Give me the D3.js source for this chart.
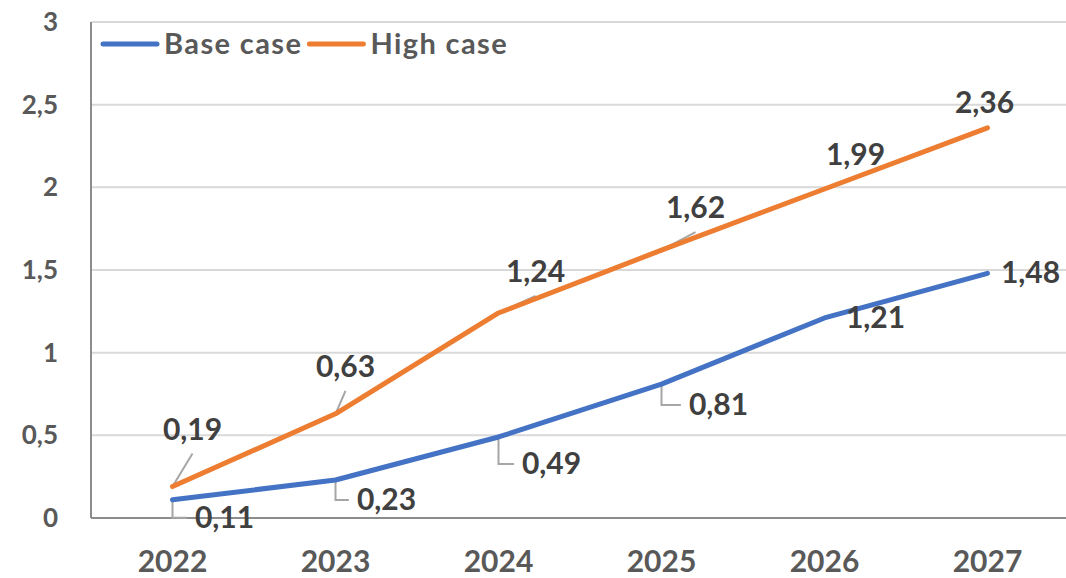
<!DOCTYPE html>
<html>
<head>
<meta charset="utf-8">
<script src="https://cdn.jsdelivr.net/npm/d3@7"></script>
<style>
  body { margin: 0; background: #fff; }
  text { font-family: Lato, "Open Sans", sans-serif; font-weight: bold; }
</style>
</head>
<body>
<div id="chart"></div>
<script>
// Chart data
var years = ["2022", "2023", "2024", "2025", "2026", "2027"];
var baseCase = [0.11, 0.23, 0.49, 0.81, 1.21, 1.48];
var highCase = [0.19, 0.63, 1.24, 1.62, 1.99, 2.36];
var yTicks = [0, 0.5, 1, 1.5, 2, 2.5, 3];

// Where each data label sits relative to its point: [dx, dy, leader]
var baseLabelPos = [[52, 28, "elbow"], [51, 30, "elbow"], [53, 37, "elbow"], [57, 31, "elbow"], [51, 10, null], [43, 10, null]];
var highLabelPos = [[20, -47, "slant"], [10, -37, "slant"], [37, -31, "slant"], [34, -32, "slant"], [31, -24, null], [-3, -15, null]];

var width = 1066, height = 578;
var plotLeft = 91, plotRight = 1069, plotTop = 22, plotBottom = 518;

var fmt = d => String(d).replace(".", ",");

var svg = d3.select("#chart").append("svg")
    .attr("width", width)
    .attr("height", height);

var x = d3.scalePoint().domain(years).range([plotLeft, plotRight]).padding(0.5);
var y = d3.scaleLinear().domain([0, 3]).range([plotBottom, plotTop]);

// Gridlines
svg.selectAll(".grid")
    .data(yTicks.filter(d => d > 0))
    .join("line")
    .attr("class", "grid")
    .attr("x1", plotLeft).attr("x2", plotRight)
    .attr("y1", d => y(d)).attr("y2", d => y(d))
    .attr("stroke", "#d9d9d9")
    .attr("stroke-width", 2);

// Axis lines
svg.append("line")
    .attr("x1", plotLeft).attr("x2", plotLeft)
    .attr("y1", plotTop).attr("y2", plotBottom)
    .attr("stroke", "#8c8c8c").attr("stroke-width", 2);
svg.append("line")
    .attr("x1", plotLeft).attr("x2", plotRight)
    .attr("y1", plotBottom).attr("y2", plotBottom)
    .attr("stroke", "#8c8c8c").attr("stroke-width", 2);

// Y tick labels
svg.selectAll(".ytick")
    .data(yTicks)
    .join("text")
    .attr("class", "ytick")
    .attr("x", 58)
    .attr("y", d => y(d) + 9)
    .attr("text-anchor", "end")
    .attr("font-size", 26)
    .attr("fill", "#595959")
    .text(fmt);

// X tick labels
svg.selectAll(".xtick")
    .data(years)
    .join("text")
    .attr("class", "xtick")
    .attr("x", d => x(d))
    .attr("y", 572)
    .attr("text-anchor", "middle")
    .attr("font-size", 30)
    .attr("fill", "#595959")
    .text(d => d);

var line = d3.line()
    .x((d, i) => x(years[i]))
    .y(d => y(d));

var series = [
    { name: "Base case", values: baseCase, color: "#4472C4", pos: baseLabelPos },
    { name: "High case", values: highCase, color: "#ED7D31", pos: highLabelPos }
];

series.forEach(function(s) {
    svg.append("path")
        .datum(s.values)
        .attr("d", line)
        .attr("fill", "none")
        .attr("stroke", s.color)
        .attr("stroke-width", 5)
        .attr("stroke-linecap", "round")
        .attr("stroke-linejoin", "round");
});

// Data labels with leader lines
series.forEach(function(s) {
    s.values.forEach(function(v, i) {
        var px = x(years[i]), py = y(v);
        var p = s.pos[i];
        var tx = px + p[0], ty = py + p[1];
        var label = svg.append("text")
            .attr("x", tx)
            .attr("y", ty)
            .attr("text-anchor", "middle")
            .attr("font-size", 30)
            .attr("fill", "#404040")
            .text(fmt(v));
        var w = label.node().getComputedTextLength();
        var path = null;
        if (p[2] === "elbow") {
            path = d3.path();
            path.moveTo(px, py);
            path.lineTo(px, ty - 10);
            path.lineTo(tx - w / 2 - 8, ty - 10);
        } else if (p[2] === "slant") {
            path = d3.path();
            path.moveTo(px, py);
            path.lineTo(tx, ty + 14);
        }
        if (path) {
            svg.insert("path", "text")
                .attr("d", path.toString())
                .attr("fill", "none")
                .attr("stroke", "#a6a6a6")
                .attr("stroke-width", 2);
        }
    });
});

// Legend
var legend = svg.append("g").attr("transform", "translate(103,44)");
var lx = 0;
series.forEach(function(s) {
    legend.append("line")
        .attr("x1", lx).attr("x2", lx + 54)
        .attr("y1", 0).attr("y2", 0)
        .attr("stroke", s.color)
        .attr("stroke-width", 5)
        .attr("stroke-linecap", "round");
    var t = legend.append("text")
        .attr("x", lx + 61)
        .attr("y", 10)
        .attr("font-size", 29)
        .attr("letter-spacing", 1.4)
        .attr("fill", "#595959")
        .text(s.name);
    lx += 61 + t.node().getComputedTextLength() + 7;
});
</script>
</body>
</html>
